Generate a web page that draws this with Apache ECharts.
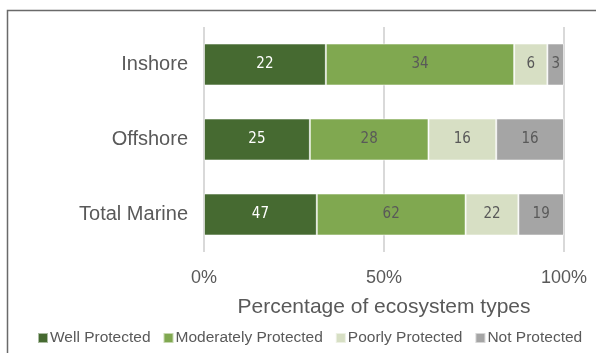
<!DOCTYPE html>
<html><head><meta charset="utf-8">
<script src="https://cdn.jsdelivr.net/npm/echarts@6/dist/echarts.min.js"></script>
<style>html,body{margin:0;padding:0;background:#fff}#c{width:596px;height:353px}</style>
</head><body><div id="c"></div>
<script>
var categories = ['Inshore', 'Offshore', 'Total Marine'];
var seriesNames = ['Well Protected', 'Moderately Protected', 'Poorly Protected', 'Not Protected'];
var wellProtected = [22, 25, 47];
var moderatelyProtected = [34, 28, 62];
var poorlyProtected = [6, 16, 22];
var notProtected = [3, 16, 19];
var tickLabels = ['0%', '50%', '100%'];
var colors = ['#466a31', '#80a850', '#d7dfc4', '#a5a5a5'];
var labelColors = ['#ffffff', '#595959', '#595959', '#595959'];

var raw = [wellProtected, moderatelyProtected, poorlyProtected, notProtected];
var totals = categories.map(function (_, i) {
  return raw.reduce(function (s, a) { return s + a[i]; }, 0);
});

var chart = echarts.init(document.getElementById('c'));
var font = 'Liberation Sans, Arial, sans-serif';
chart.setOption({
  animation: false,
  textStyle: { fontFamily: font },
  graphic: [{
    type: 'rect', silent: true,
    shape: { x: 7.5, y: 10.5, width: 700, height: 500 },
    style: { fill: 'none', stroke: '#6a6a6a', lineWidth: 1.5 }
  }],
  grid: { left: 204, top: 27, width: 360, height: 225, containLabel: false },
  legend: {
    data: seriesNames, left: 32, top: 325,
    itemWidth: 10, itemHeight: 10, itemGap: 12, icon: 'rect',
    textStyle: { color: '#595959', fontSize: 15.5, fontFamily: font, padding: [0, 0, 0, -3] }
  },
  xAxis: {
    type: 'value', min: 0, max: 100, interval: 50,
    axisLine: { show: false }, axisTick: { show: false },
    splitLine: { show: true, lineStyle: { color: '#d9d9d9', width: 2 } },
    axisLabel: {
      color: '#595959', fontSize: 18, margin: 17,
      formatter: function (v) { return tickLabels[Math.round(v / 50)]; }
    },
    name: 'Percentage of ecosystem types', nameLocation: 'middle', nameGap: 45,
    nameTextStyle: { color: '#595959', fontSize: 21 }
  },
  yAxis: {
    type: 'category', data: categories, inverse: true,
    axisLine: { show: false }, axisTick: { show: false },
    axisLabel: { color: '#595959', fontSize: 20, margin: 16 }
  },
  series: raw.map(function (arr, k) {
    return {
      name: seriesNames[k], type: 'bar', stack: 'all', barCategoryGap: '44%',
      itemStyle: { color: colors[k], borderColor: 'rgba(255,255,255,0.55)', borderWidth: 1 },
      label: {
        show: true, position: 'inside', color: labelColors[k], fontSize: 15,
        fontFamily: 'Liberation Sans Narrow, DejaVu Sans Condensed, sans-serif',
        formatter: function (p) { return arr[p.dataIndex]; }
      },
      data: arr.map(function (v, i) { return v / totals[i] * 100; })
    };
  })
});
</script></body></html>
